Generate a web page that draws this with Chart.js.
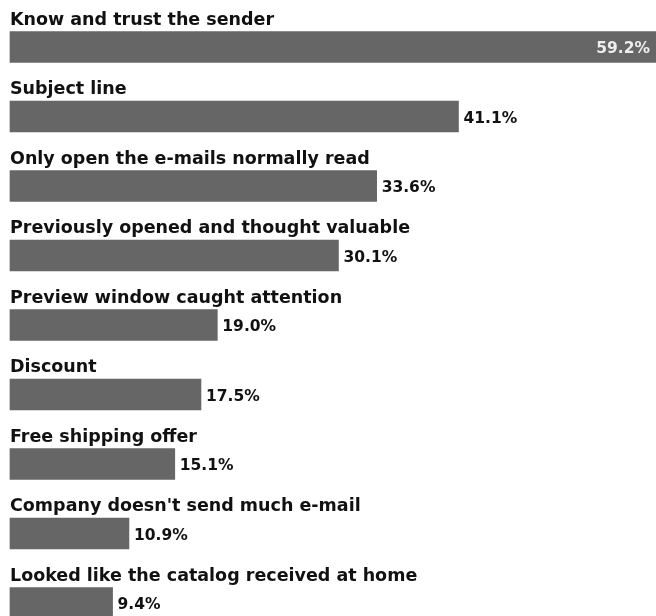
<!DOCTYPE html>
<html>
<head>
<meta charset="utf-8">
<title>Why e-mails get opened</title>
<script src="https://cdn.jsdelivr.net/npm/chart.js@4"></script>
<style>
    body { margin: 0; background: #fff; }
    #wrap { width: 656px; height: 616px; position: relative; }
</style>
</head>
<body>
<div id="wrap"><canvas id="myChart"></canvas></div>
<script>
// Reasons people give for opening an e-mail, share of respondents in %
const reasons = [
    'Know and trust the sender',
    'Subject line',
    'Only open the e-mails normally read',
    'Previously opened and thought valuable',
    'Preview window caught attention',
    'Discount',
    'Free shipping offer',
    "Company doesn't send much e-mail",
    'Looked like the catalog received at home'
];
const shares = [59.2, 41.1, 33.6, 30.1, 19.0, 17.5, 15.1, 10.9, 9.4];
const shareLabels = ['59.2%', '41.1%', '33.6%', '30.1%', '19.0%', '17.5%', '15.1%', '10.9%', '9.4%'];

const barColor = '#666666';
const reasonFont = 'bold 17.5px "DejaVu Sans", Verdana, sans-serif';
const valueFont = 'bold 15.5px "DejaVu Sans", Verdana, sans-serif';

// Draws the reason above each bar and the percentage at its end
const barLabels = {
    id: 'barLabels',
    afterDatasetsDraw(chart) {
        const ctx = chart.ctx;
        const bars = chart.getDatasetMeta(0).data;
        ctx.save();
        ctx.textBaseline = 'alphabetic';
        bars.forEach((bar, i) => {
            const top = bar.y - bar.height / 2;

            ctx.font = reasonFont;
            ctx.fillStyle = '#111';
            ctx.textAlign = 'left';
            ctx.fillText(reasons[i], chart.chartArea.left, top - 7);

            ctx.font = valueFont;
            // longest bar has no room to the right, so its value goes inside
            if (i === 0) {
                ctx.fillStyle = '#eeeeee';
                ctx.textAlign = 'right';
                ctx.fillText(shareLabels[i], bar.x - 6, bar.y + 6);
            } else {
                ctx.fillStyle = '#111';
                ctx.textAlign = 'left';
                ctx.fillText(shareLabels[i], bar.x + 5, bar.y + 6);
            }
        });
        ctx.restore();
    }
};

const ctx = document.getElementById('myChart');

const chart = new Chart(ctx, {
    type: 'bar',
    data: {
        labels: reasons,
        datasets: [{
            data: shares,
            backgroundColor: barColor,
            borderWidth: 0,
            barThickness: 31,
            clip: false
        }]
    },
    options: {
        indexAxis: 'y',
        responsive: true,
        maintainAspectRatio: false,
        animation: false,
        layout: {
            padding: { top: 47, bottom: 13, left: 10, right: 0 }
        },
        scales: {
            x: { display: false, min: 0, max: 59.2 },
            y: { display: false, offset: false, grid: { offset: false } }
        },
        plugins: {
            legend: { display: false },
            tooltip: { enabled: false }
        }
    },
    plugins: [barLabels]
});
</script>
</body>
</html>
